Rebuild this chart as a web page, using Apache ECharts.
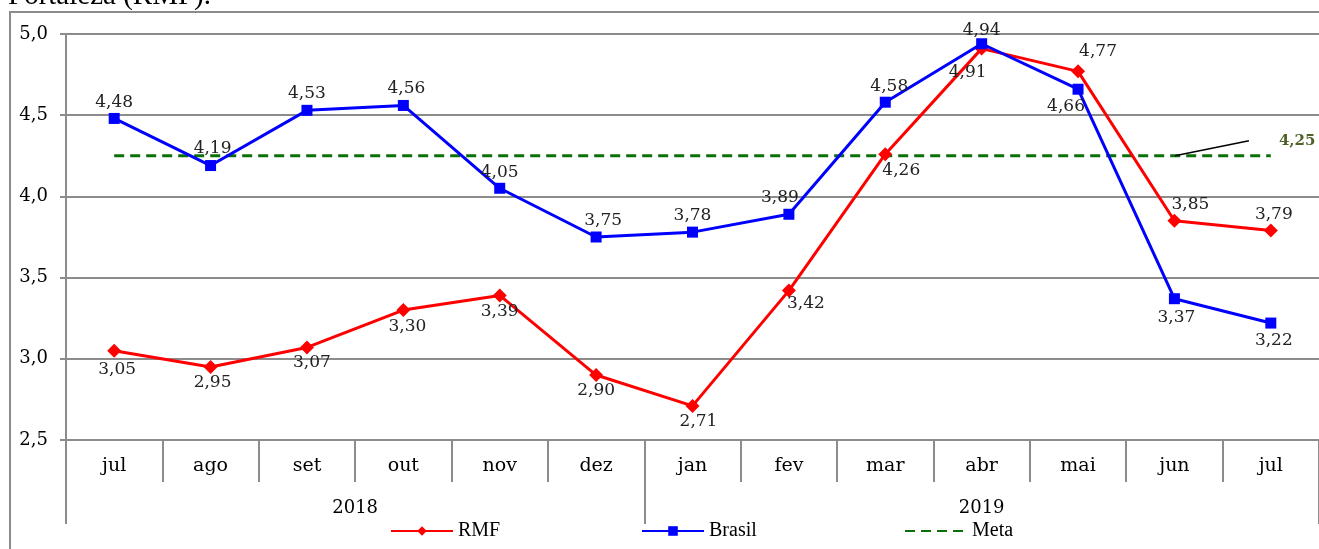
<!DOCTYPE html>
<html>
<head>
<meta charset="utf-8">
<script src="https://cdn.jsdelivr.net/npm/echarts@6/dist/echarts.min.js"></script>
<style>
  html, body { margin: 0; padding: 0; background: #fff; overflow: hidden; }
  #chart { width: 1319px; height: 549px; }
</style>
</head>
<body>
<div id="chart"></div>
<script>
// Monthly categories and year groups
const months = ['jul', 'ago', 'set', 'out', 'nov', 'dez', 'jan', 'fev', 'mar', 'abr', 'mai', 'jun', 'jul'];
const years = ['2018', '2019'];
const yearStart = [0, 6];
const yearEnd = [5, 12];

// Series values
const rmf = [3.05, 2.95, 3.07, 3.30, 3.39, 2.90, 2.71, 3.42, 4.26, 4.91, 4.77, 3.85, 3.79];
const brasil = [4.48, 4.19, 4.53, 4.56, 4.05, 3.75, 3.78, 3.89, 4.58, 4.94, 4.66, 3.37, 3.22];
const metaValue = 4.25;
const meta = months.map(() => metaValue);

// Value-axis ticks
const yTicks = [2.5, 3.0, 3.5, 4.0, 4.5, 5.0];

// Label offsets [dx, dy] relative to each point
const rmfLabelOffset = [[3, 19], [2, 16], [5, 15], [4, 16], [0, 16], [0, 16], [6, 16], [17, 13], [16, 16], [-14, 24], [20, -20], [16, -16], [3, -16]];
const brasilLabelOffset = [[0, -16], [2, -17], [0, -17], [3, -17], [0, -16], [7, -16], [0, -17], [-9, -17], [4, -16], [0, -13], [-12, 17], [2, 19], [3, 18]];

const fmt = v => v.toFixed(2).replace('.', ',');
const serif = 'DejaVu Serif';
const legendFont = 'Liberation Serif';
const gridColor = '#8c8c8c';

function labelled(values, offsets) {
  return values.map((v, i) => ({
    value: v,
    label: { offset: offsets[i] }
  }));
}

const chart = echarts.init(document.getElementById('chart'), null, { renderer: 'canvas' });

// The goal line carries its value label on the "jun" point, with a leader line
const metaLabelIndex = 11;
const metaData = meta.map((v, i) => {
  if (i !== metaLabelIndex) return v;
  return {
    value: v,
    symbol: 'circle',
    symbolSize: 1,
    label: {
      show: true,
      position: 'right',
      distance: 0,
      formatter: p => '{g|}{v|' + fmt(p.value) + '}',
      rich: {
        g: { width: 30 },
        v: { fontFamily: serif, fontWeight: 'bold', fontSize: 15, color: '#4F6228' }
      }
    },
    labelLine: { show: true, lineStyle: { color: '#000', width: 1.5 } }
  };
});

const legendBase = {
  itemWidth: 62, itemHeight: 12, itemGap: 4,
  textStyle: { fontFamily: legendFont, fontSize: 20, color: '#000' }
};

const option = {
  animation: false,
  backgroundColor: '#fff',
  title: {
    text: 'Fortaleza (RMF).',
    left: 3,
    top: -23,
    textStyle: { fontFamily: legendFont, fontSize: 29, fontWeight: 'normal', color: '#000' }
  },
  grid: { left: 66, top: 34, width: 1258, height: 406, containLabel: false },
  legend: [
    Object.assign({ data: ['RMF'], left: 385, top: 516 }, legendBase),
    Object.assign({ data: ['Brasil'], left: 636, top: 516 }, legendBase),
    Object.assign({ data: ['Meta'], left: 899, top: 516, itemStyle: { opacity: 0 } }, legendBase)
  ],
  xAxis: [
    {
      type: 'category',
      data: months,
      boundaryGap: true,
      axisLine: { show: true, lineStyle: { color: gridColor, width: 2 } },
      axisTick: { show: true, interval: 0, length: 42, lineStyle: { color: gridColor, width: 2 } },
      axisLabel: { interval: 0, margin: 17, fontFamily: serif, fontSize: 19, color: '#000' },
      splitLine: { show: false }
    },
    {
      type: 'category',
      data: months,
      boundaryGap: true,
      position: 'bottom',
      axisLine: { show: false },
      axisTick: {
        show: true,
        interval: (i) => yearStart.indexOf(i) >= 0,
        length: 84,
        lineStyle: { color: gridColor, width: 2 }
      },
      axisLabel: { show: false },
      splitLine: { show: false }
    }
  ],
  yAxis: {
    type: 'value',
    min: yTicks[0],
    max: yTicks[yTicks.length - 1],
    interval: 0.5,
    axisLine: { show: true, lineStyle: { color: gridColor, width: 2 } },
    axisTick: { show: true, length: 6, lineStyle: { color: gridColor, width: 2 } },
    axisLabel: {
      margin: 18,
      formatter: v => v.toFixed(1).replace('.', ','),
      fontFamily: serif, fontSize: 18, color: '#000'
    },
    splitLine: { show: true, lineStyle: { color: gridColor, width: 2 } }
  },
  series: [
    {
      name: 'RMF',
      type: 'line',
      z: 3,
      data: labelled(rmf, rmfLabelOffset),
      symbol: 'diamond',
      symbolSize: 14,
      color: '#ff0000',
      lineStyle: { width: 3, color: '#ff0000' },
      itemStyle: { color: '#ff0000' },
      label: {
        show: true, position: 'inside', formatter: p => fmt(p.value),
        fontFamily: serif, fontSize: 17, color: '#222'
      }
    },
    {
      name: 'Brasil',
      type: 'line',
      z: 4,
      data: labelled(brasil, brasilLabelOffset),
      symbol: 'rect',
      symbolSize: 11,
      color: '#0000ff',
      lineStyle: { width: 3, color: '#0000ff' },
      itemStyle: { color: '#0000ff' },
      label: {
        show: true, position: 'inside', formatter: p => fmt(p.value),
        fontFamily: serif, fontSize: 17, color: '#222'
      }
    },
    {
      name: 'Meta',
      type: 'line',
      z: 2,
      data: metaData,
      symbol: 'none',
      color: '#0a700a',
      lineStyle: { width: 3, color: '#0a700a', type: [10, 6] },
      itemStyle: { color: '#0a700a' },
      labelLayout: (p) => p.dataIndex === metaLabelIndex ? { dx: 74, dy: -15 } : {}
    }
  ]
};

chart.setOption(option);

// Year group labels centred under their months, plus the outer frame (left and top edges)
function groupCenter(startIdx, endIdx) {
  const a = chart.convertToPixel({ xAxisIndex: 0 }, startIdx);
  const b = chart.convertToPixel({ xAxisIndex: 0 }, endIdx);
  return (a + b) / 2;
}
const y0 = chart.convertToPixel({ yAxisIndex: 0 }, yTicks[0]);
const graphics = years.map((label, k) => ({
  type: 'text',
  x: groupCenter(yearStart[k], yearEnd[k]),
  y: y0 + 68,
  style: {
    text: label, fontFamily: serif, fontSize: 18, fill: '#000',
    align: 'center', verticalAlign: 'middle'
  }
}));
graphics.push(
  { type: 'line', shape: { x1: 10, y1: 12, x2: 10, y2: 560 }, style: { stroke: gridColor, lineWidth: 2 } },
  { type: 'line', shape: { x1: 9, y1: 12, x2: 1319, y2: 12 }, style: { stroke: gridColor, lineWidth: 2 } }
);
chart.setOption({ graphic: graphics });
</script>
</body>
</html>
